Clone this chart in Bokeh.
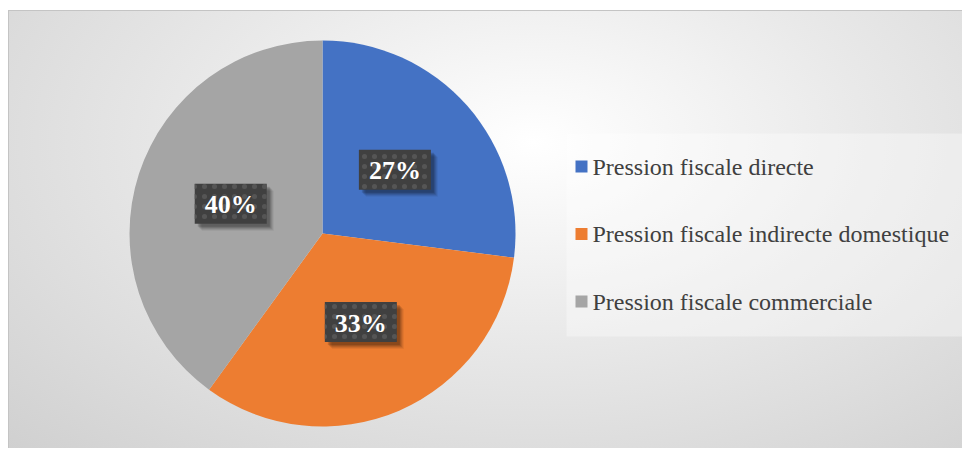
import numpy as np
from bokeh.plotting import figure
from bokeh.models import Range1d, ColumnDataSource
from bokeh.embed import file_html
from bokeh.resources import INLINE
from bokeh.core.properties import value

categories = ["Pression fiscale directe",
              "Pression fiscale indirecte domestique",
              "Pression fiscale commerciale"]
shares = [27, 33, 40]
colors = ["#4472C4", "#ED7D31", "#A5A5A5"]

W, H = 954, 438
p = figure(width=W, height=H, x_range=Range1d(0, W), y_range=Range1d(0, H),
           output_backend="svg", toolbar_location=None, min_border=0)
p.axis.visible = False
p.grid.visible = False
p.outline_line_color = None
p.background_fill_alpha = 0
p.border_fill_alpha = 0
p.styles = {
    "background": "radial-gradient(farthest-corner at 55% 30%, #ffffff 0%, #e9e9e9 45%, #d0d0d0 100%)",
    "border-left": "1px solid #c4c4c4",
    "border-top": "1px solid #c4c4c4",
    "margin-left": "8px",
    "margin-top": "10px",
}

# pie
cx, cy, r = 313, 216, 193
total = sum(shares)
frac = np.array(shares, dtype=float) / total
cum = np.concatenate([[0.0], np.cumsum(frac)])
start = np.pi / 2 - cum[:-1] * 2 * np.pi
end = np.pi / 2 - cum[1:] * 2 * np.pi
mid = (start + end) / 2
lx = cx + 0.5 * r * np.cos(mid)
ly = cy + 0.5 * r * np.sin(mid)
labels = [f"{round(s / total * 100)}%" for s in shares]

src = ColumnDataSource(dict(start=start, end=end, color=colors, lx=lx, ly=ly,
                            label=labels))
p.wedge(x=cx, y=cy, radius=r, start_angle="start", end_angle="end",
        direction="clock", fill_color="color", line_color=None, source=src)

# label boxes with soft shadow
for off, a in [(7, 0.06), (6, 0.08), (5, 0.10), (4, 0.12), (3, 0.14)]:
    p.rect(x=lx + off, y=ly - off, width=72, height=40, fill_color="black",
           fill_alpha=a, line_color=None)
p.rect(x="lx", y="ly", width=72, height=40, fill_color="#404040",
       line_color=None, hatch_pattern="dot", hatch_color="#555555",
       hatch_scale=10, hatch_weight=3, source=src)
p.text(x="lx", y="ly", text="label", text_font=value("Liberation Serif"),
       text_font_style="bold", text_font_size="26px", text_color="white",
       text_align="center", text_baseline="middle", y_offset=1, source=src)

# legend
p.rect(x=(557 + 954) / 2, y=(113 + 316) / 2, width=954 - 557, height=316 - 113,
       fill_color="white", fill_alpha=0.35, line_color=None)
n = len(categories)
leg_y = [283 - 67.5 * i for i in range(n)]
leg = ColumnDataSource(dict(y=leg_y, color=colors, name=categories))
p.rect(x=572, y="y", width=12, height=12, fill_color="color", line_color=None,
       source=leg)
p.text(x=583, y="y", text="name", text_font=value("Liberation Serif"),
       text_font_size="24px", text_color="#404040", text_baseline="middle",
       y_offset=0, source=leg)

open("out.html", "w").write(file_html(p, INLINE))
